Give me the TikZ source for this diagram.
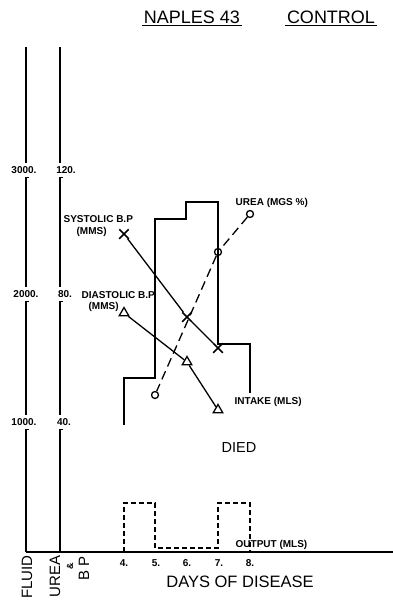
\documentclass[tikz,border=0pt]{standalone}
\usepackage{fontspec}
\setmainfont{Liberation Sans}
\usetikzlibrary{shapes.misc, shapes.geometric}

\tikzset{
  lbl/.style={inner sep=0pt, font=\fontsize{10}{10}\selectfont\bfseries},
  num/.style={inner sep=0pt, font=\fontsize{10}{10}\selectfont\bfseries},
  xmark/.style={cross out, draw, minimum size=8pt, inner sep=0pt, line width=1.5pt},
  tmark/.style={regular polygon, regular polygon sides=3, draw, minimum size=11pt, inner sep=0pt, line width=1.3pt},
  omark/.style={circle, draw, minimum size=7pt, inner sep=0pt, line width=1.3pt},
}

\begin{document}
\begin{tikzpicture}[x=1pt, y=-1pt, line width=1.3pt]
\useasboundingbox (0,0) rectangle (393,600);

% title
\node [inner sep=1pt, font=\fontsize{18}{18}\selectfont] (title) at (192,17) {NAPLES 43};
\node [inner sep=1pt, font=\fontsize{18}{18}\selectfont] (group) at (331,17) {CONTROL};
\draw [line width=1pt] (title.south west) -- (title.south east);
\draw [line width=1pt] (group.south west) -- (group.south east);

% scale labels
\node [num] (f3) at (24,170) {3000.};
\node [num] (f2) at (26,294) {2000.};
\node [num] (f1) at (24,422) {1000.};
\node [num] (u3) at (66,170) {120.};
\node [num] (u2) at (65,294) {80.};
\node [num] (u1) at (64,422) {40.};

% axes
\draw [line width=1.8pt] (26,47) -- (26,163);
\draw [line width=1.8pt] (26,177) -- (26,287) (26,301) -- (26,415) (26,429) -- (26,552);
\draw [line width=1.8pt] (60,47) -- (60,163);
\draw [line width=1.8pt] (60,177) -- (60,287) (60,301) -- (60,415) (60,429) -- (60,552);
\draw [line width=1pt] (26,177) -- (29,177) (26,301) -- (29,301) (26,429) -- (29,429);
\draw [line width=1pt] (60,177) -- (63,177) (60,301) -- (63,301) (60,429) -- (63,429);
\draw [line width=1.8pt] (26,552) -- (393,552);

% days
\node [num] (d4) at (124,563) {4.};
\node [num] (d5) at (156,563) {5.};
\node [num] (d6) at (187,563) {6.};
\node [num] (d7) at (219,563) {7.};
\node [num] (d8) at (250,563) {8.};
\node [inner sep=0pt, font=\fontsize{16.5}{16.5}\selectfont] (days) at (240,582) {DAYS OF DISEASE};

% axis names
\node [inner sep=0pt, rotate=90, anchor=east, font=\fontsize{15}{15}\selectfont] (fluid) at (27,555) {FLUID};
\node [inner sep=0pt, rotate=90, anchor=east, font=\fontsize{15}{15}\selectfont] (urea) at (55,555) {UREA};
\node [inner sep=0pt, rotate=90, font=\fontsize{9}{9}\selectfont\bfseries] (and) at (70,566) {\&};
\node [inner sep=0pt, rotate=90, anchor=east, font=\fontsize{15}{15}\selectfont] (bp) at (84,556) {B P};

% intake
\draw [line width=1.6pt] (124,425) -- (124,378) -- (155,378) -- (155,219) -- (186,219)
  -- (186,202) -- (218,202) -- (218,344) -- (250,344) -- (250,393);
\node [lbl, anchor=west] (intake) at (234,402) {INTAKE (MLS)};

% output
\draw [line width=1.4pt, dash pattern=on 5pt off 3pt] (124,552) -- (124,503) -- (155,503)
  -- (155,548) -- (218,548) -- (218,503) -- (250,503) -- (250,552);
\node [lbl, anchor=west] (output) at (235,545) {OUTPUT (MLS)};

% systolic
\node [xmark] (s4) at (124,234) {};
\node [xmark] (s6) at (187,317) {};
\node [xmark] (s7) at (218,348) {};
\draw (s4) -- (s6) -- (s7);
\node [lbl, anchor=west] (syslbl) at (63,219) {SYSTOLIC B.P};
\node [lbl, anchor=west] (sysunit) at (76,232) {(MMS)};

% diastolic
\node [tmark] (t4) at (124,313) {};
\node [tmark] (t6) at (187,362) {};
\node [tmark] (t7) at (218,410) {};
\draw (t4) -- (t6) -- (t7);
\node [lbl, anchor=west] (dialbl) at (81,295) {DIASTOLIC B.P};
\node [lbl, anchor=west] (diaunit) at (88,307) {(MMS)};

% urea
\node [omark] (o8) at (250,214) {};
\node [omark] (o7) at (218,252) {};
\node [omark] (o5) at (155,395) {};
\draw [dash pattern=on 9pt off 5pt] (o8) -- (o7) -- (o5);
\node [lbl, anchor=west] (urealbl) at (235,203) {UREA (MGS \%)};

\node [inner sep=0pt, font=\fontsize{14.5}{14.5}\selectfont] (died) at (239,448) {DIED};

\end{tikzpicture}
\end{document}
